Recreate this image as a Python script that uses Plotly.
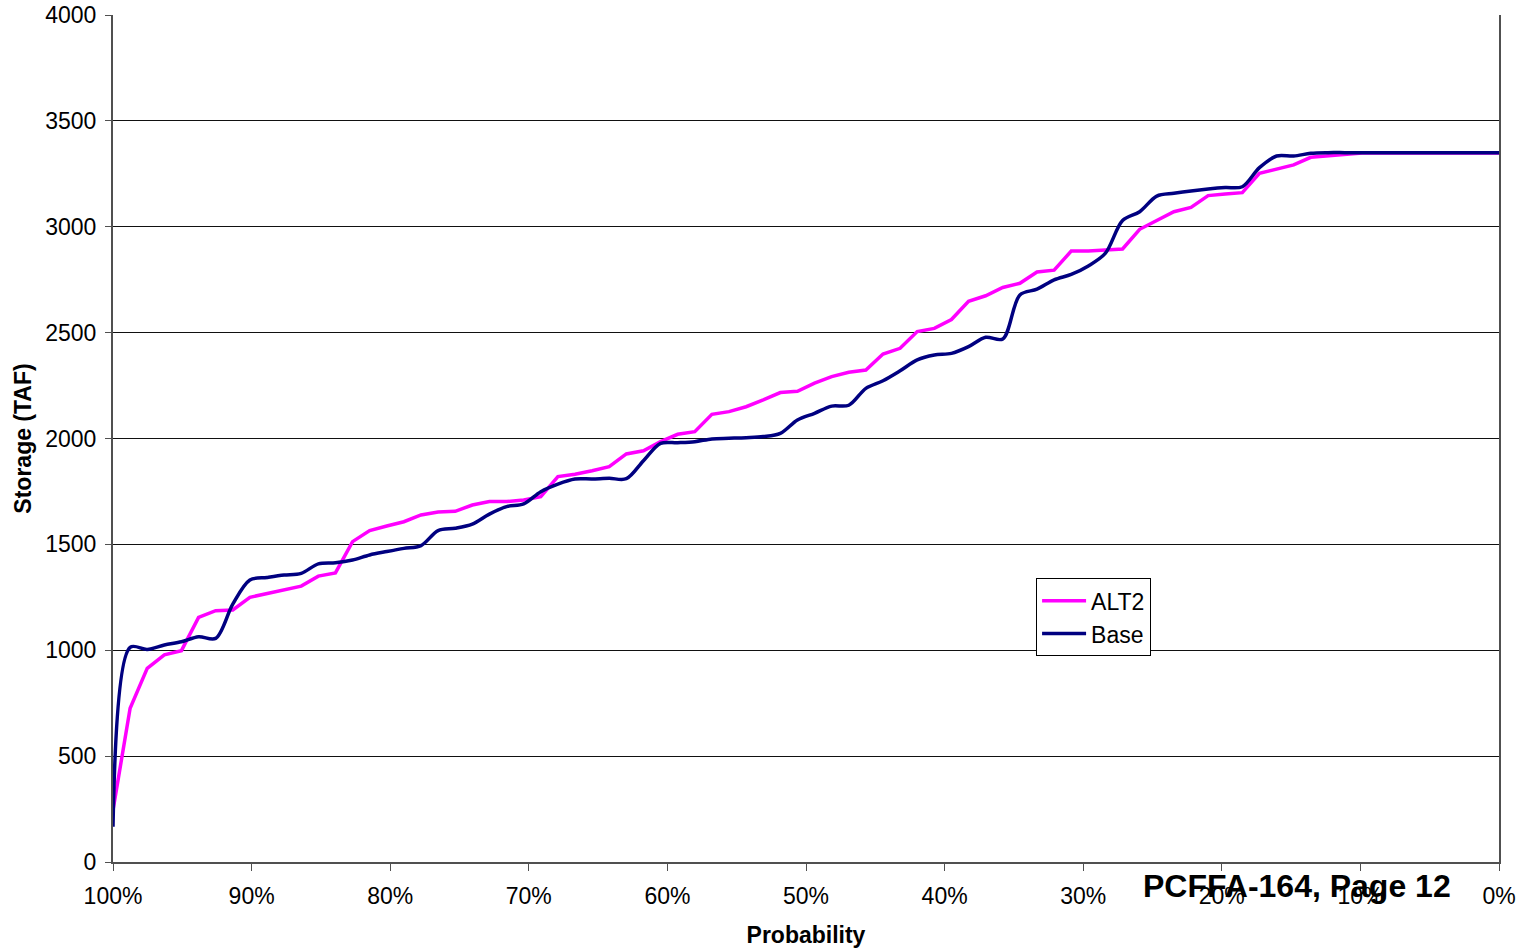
import plotly.graph_objects as go

# Exceedance probability (%) for each of the 82 ranked years
probability = [round(100 - 100 * k / 81, 3) for k in range(82)]

# End-of-September storage (TAF), ranked
alt2_storage = [
    245, 726, 915, 978, 998, 1155, 1187, 1190, 1250, 1269,
    1288, 1303, 1350, 1365, 1513, 1565, 1587, 1607, 1639, 1653,
    1656, 1686, 1702, 1702, 1710, 1725, 1820, 1831, 1848, 1867,
    1927, 1942, 1985, 2020, 2032, 2114, 2127, 2150, 2182, 2217,
    2223, 2261, 2292, 2313, 2323, 2399, 2426, 2505, 2520, 2562,
    2648, 2674, 2713, 2733, 2786, 2795, 2885, 2885, 2890, 2895,
    2988, 3029, 3071, 3091, 3147, 3155, 3161, 3252, 3271, 3292,
    3328, 3334, 3344, 3348, 3348, 3348, 3348, 3348, 3348, 3348,
    3348, 3348,
]

base_storage = [
    167, 1014, 1004, 1025, 1040, 1064, 1056, 1218, 1332, 1344,
    1355, 1363, 1408, 1413, 1426, 1450, 1466, 1481, 1494, 1565,
    1576, 1596, 1643, 1678, 1691, 1749, 1785, 1809, 1809, 1812,
    1810, 1895, 1977, 1980, 1985, 1998, 2001, 2004, 2009, 2024,
    2087, 2119, 2153, 2157, 2237, 2273, 2320, 2371, 2394, 2402,
    2434, 2478, 2470, 2678, 2705, 2749, 2775, 2815, 2875, 3029,
    3071, 3145, 3158, 3169, 3178, 3185, 3189, 3279, 3334, 3334,
    3347, 3350, 3350, 3350, 3350, 3350, 3350, 3350, 3350, 3350,
    3350, 3350,
]

x_ticks = list(range(0, 101, 10))
x_tick_text = [f"{v}%" for v in x_ticks]

FONT = "Liberation Sans, Arial, sans-serif"

fig = go.Figure()
fig.add_trace(go.Scatter(
    x=probability, y=alt2_storage, name="ALT2", mode="lines",
    line=dict(color="#FF00FF", width=3.5),
))
fig.add_trace(go.Scatter(
    x=probability, y=base_storage, name="Base", mode="lines",
    line=dict(color="#000080", width=3.5, shape="spline", smoothing=0.9),
))

fig.update_layout(
    width=1524, height=948,
    margin=dict(l=113, r=25, t=15, b=86, autoexpand=False),
    paper_bgcolor="white", plot_bgcolor="white",
    font=dict(family=FONT, size=23, color="black"),
    showlegend=True,
    legend=dict(
        x=0.666, y=0.335, xanchor="left", yanchor="top",
        bgcolor="white", bordercolor="black", borderwidth=1,
        font=dict(family=FONT, size=23, color="black"),
        tracegroupgap=0, itemwidth=44,
    ),
    xaxis=dict(
        range=[100, 0], tickvals=x_ticks, ticktext=x_tick_text,
        showgrid=False, zeroline=False,
        showline=True, linecolor="#505050", linewidth=2,
        ticks="outside", ticklen=7, tickcolor="#505050", tickwidth=1,
        ticklabelstandoff=5,
        tickfont=dict(family=FONT, size=23, color="black"),
        title=dict(text="<b>Probability</b>", font=dict(family=FONT, size=23), standoff=19),
    ),
    yaxis=dict(
        range=[0, 4000], dtick=500, tick0=0,
        showgrid=True, gridcolor="#111111", gridwidth=1,
        zeroline=False,
        showline=True, linecolor="#505050", linewidth=2, mirror=True,
        ticks="outside", ticklen=6, tickcolor="#505050", tickwidth=1,
        ticklabelstandoff=4,
        tickfont=dict(family=FONT, size=23, color="black"),
        title=dict(text="<b>Storage (TAF)</b>", font=dict(family=FONT, size=23), standoff=7),
    ),
    annotations=[dict(
        text="<b>PCFFA-164, Page 12</b>", xref="paper", yref="paper",
        x=0.854, y=-0.028, xanchor="center", yanchor="middle",
        showarrow=False, font=dict(family=FONT, size=32, color="black"),
    )],
)

fig.write_html("out.html")
